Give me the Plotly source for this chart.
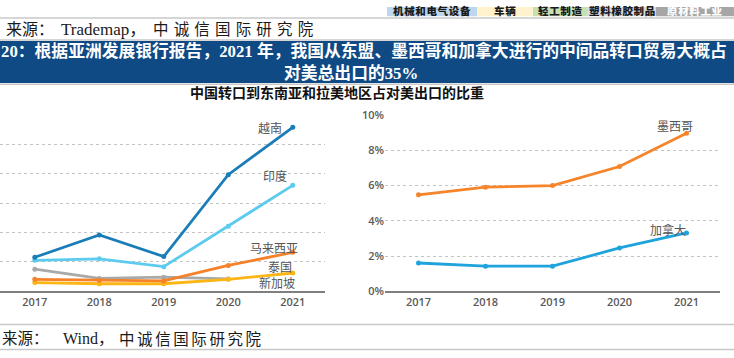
import plotly.graph_objects as go

W, H = 734, 358

def px(x):
    return x / W

def py(y):
    return 1 - y / H

# ---------------- data ----------------
years = ["2017", "2018", "2019", "2020", "2021"]

# left chart: share of China's re-exports (units of the hidden left axis)
vietnam = [2.32, 3.83, 2.37, 7.92, 11.14]
india = [2.11, 2.21, 1.68, 4.43, 7.20]
malaysia = [0.82, 0.75, 0.71, 1.76, 2.65]
thailand = [1.51, 0.88, 0.97, 0.85, None]
singapore = [0.60, 0.52, 0.52, 0.82, 1.25]

# right chart (%)
mexico = [5.47, 5.90, 5.99, 7.07, 8.95]
canada = [1.61, 1.43, 1.43, 2.46, 3.31]

right_ticks = [0, 2, 4, 6, 8, 10]
right_tick_labels = ["0%", "2%", "4%", "6%", "8%", "10%"]

left_names = ["泰国", "新加坡", "马来西亚", "印度", "越南"]
right_names = ["墨西哥", "加拿大"]

header_boxes = ["机械和电气设备", "车辆", "轻工制造", "塑料橡胶制品", "原材料工业"]

# ---------------- styles ----------------
SERIF = "Liberation Serif, Noto Sans CJK SC"
SANS = "Open Sans, Noto Sans CJK SC"
GRAY_TXT = "#595959"

left_series = [thailand, singapore, malaysia, india, vietnam]
left_colors = ["#a9a9a9", "#fbb514", "#f5812a", "#5ccbef", "#1a7db8"]
right_series = [mexico, canada]
right_colors = ["#f5842a", "#1fa3dc"]

fig = go.Figure()

for name, vals, col in zip(left_names, left_series, left_colors):
    fig.add_trace(go.Scatter(
        x=years, y=vals, name=name, mode="lines+markers",
        line=dict(color=col, width=2.8), marker=dict(color=col, size=5),
        xaxis="x", yaxis="y", hoverinfo="skip"))

for name, vals, col in zip(right_names, right_series, right_colors):
    fig.add_trace(go.Scatter(
        x=years, y=vals, name=name, mode="lines+markers",
        line=dict(color=col, width=2.8), marker=dict(color=col, size=5),
        xaxis="x2", yaxis="y2", hoverinfo="skip"))

ydom = [py(296), py(111.2)]
tickfont = dict(family=SANS, size=11, color=GRAY_TXT, weight=600)
GRID = dict(showgrid=True, gridcolor="#c4c4c4", griddash="3px,3px", gridwidth=1)

fig.update_layout(
    width=W, height=H,
    margin=dict(l=0, r=0, t=0, b=0),
    paper_bgcolor="white", plot_bgcolor="white",
    showlegend=False,
    xaxis=dict(domain=[0, px(325)], type="category", range=[-0.54, 4.5],
               showline=True, linecolor="#7f7f7f", linewidth=1.3,
               showgrid=False, ticks="", tickfont=tickfont, fixedrange=True),
    yaxis=dict(domain=ydom, range=[0, 12.05], dtick=2, showticklabels=False,
               zeroline=False, fixedrange=True, **GRID),
    xaxis2=dict(domain=[px(385), px(720)], anchor="y2", type="category",
                range=[-0.5, 4.5], showline=True, linecolor="#7f7f7f",
                linewidth=1.3, showgrid=False, ticks="", tickfont=tickfont,
                fixedrange=True),
    yaxis2=dict(domain=ydom, anchor="x2", range=[0, 10.05],
                tickvals=right_ticks, ticktext=right_tick_labels,
                tickfont=tickfont, zeroline=False, fixedrange=True, **GRID),
)

shapes = []
annotations = []

def rect(x0, y0, x1, y1, color):
    shapes.append(dict(type="rect", xref="paper", yref="paper",
                       x0=px(x0), x1=px(x1), y0=py(y1), y1=py(y0),
                       fillcolor=color, line=dict(width=0), layer="below"))

def hline(y, color="#c8c8c8", width=1.5):
    shapes.append(dict(type="line", xref="paper", yref="paper",
                       x0=0, x1=1, y0=py(y), y1=py(y),
                       line=dict(color=color, width=width)))

def text(s, x, y, size, color, family=SERIF, xanchor="center", weight="normal"):
    annotations.append(dict(text=s, x=px(x), y=py(y), xref="paper", yref="paper",
                            xanchor=xanchor, yanchor="middle", showarrow=False,
                            font=dict(family=family, size=size, color=color,
                                      weight=weight)))

# header colored boxes
box_edges = [387, 477, 533, 587, 656, 734]
box_colors = ["#bdd7ee", "#fff2cc", "#c6e0b4", "#d6dce4", "#a6a6a6"]
box_text_colors = ["#1a1a1a", "#1a1a1a", "#1a1a1a", "#1a1a1a", "#ffffff"]
for i, lab in enumerate(header_boxes):
    rect(box_edges[i], 0, box_edges[i + 1], 9.5, box_colors[i])
    text("\u200a".join(lab), (box_edges[i] + box_edges[i + 1]) / 2,
         4.0, 10.5, box_text_colors[i], family="Noto Sans CJK SC", weight=900)

hline(11.5)

# top source line
text("来源：", 4, 23, 16, "#1a1a1a", xanchor="left")
text("Trademap，", 59, 23, 17, "#1a1a1a", xanchor="left")
text("\u2004".join("中诚信国际研究院"), 151, 23, 15.5, "#1a1a1a", xanchor="left")

hline(34.3)

# banner
rect(0, 35.5, W, 79, "#0f4a85")
text("20：根据亚洲发展银行报告，2021 年，我国从东盟、墨西哥和加拿大进行的中间品转口贸易大概占",
     -1, 46, 16.8, "white", xanchor="left", weight="bold")
text("对美总出口的35%", 351, 69, 16.8, "white", weight="bold")
hline(80.3)

# chart title
text("中国转口到东南亚和拉美地区占对美出口的比重", 337, 89.5, 14, "#111111",
     weight="bold")

# series labels
lab_col = "#555555"
text("越南", 270, 126.5, 12, lab_col)
text("印度", 275, 176.5, 12, lab_col)
text("马来西亚", 274, 251.5, 12, lab_col)
text("泰国", 280, 272, 12, lab_col)
text("新加坡", 276.5, 287.5, 12, lab_col)
text("墨西哥", 675, 125, 12, lab_col)
text("加拿大", 667.5, 232.5, 12, lab_col)

# bottom source line
hline(330.5)
text("来源：", 0, 345.5, 15.5, "#1a1a1a", xanchor="left")
text("Wind，", 61, 345.5, 16, "#1a1a1a", xanchor="left")
text("\u2006".join("中诚信国际研究院"), 117, 345.5, 15.5, "#1a1a1a", xanchor="left")
hline(356.5)

fig.update_layout(shapes=shapes, annotations=annotations)

fig.write_html("out.html",
               config={"displayModeBar": False, "staticPlot": True},
               post_script="document.body.style.margin='0';document.body.style.overflow='hidden';")
